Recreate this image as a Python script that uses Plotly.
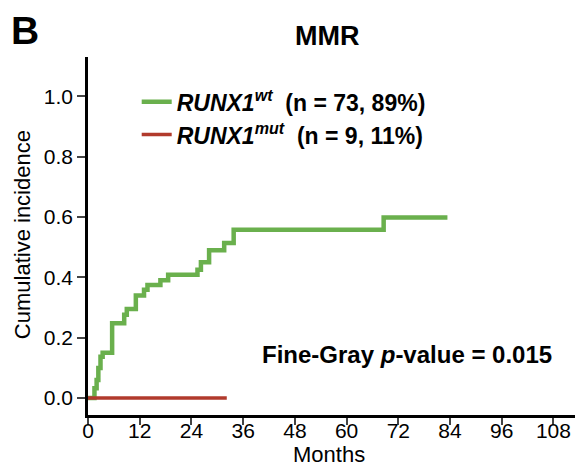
import plotly.graph_objects as go

# Data (months, cumulative incidence)
wt_months = [0, 1.5, 2.0, 2.4, 2.9, 3.4, 5.6, 8.4, 9.0, 11.1, 13.0, 13.8, 16.8, 18.6, 25.4, 26.2, 28.1, 31.6, 33.8, 68.6, 83.4]
wt_ci =     [0, 0.033, 0.06, 0.10, 0.137, 0.15, 0.248, 0.276, 0.295, 0.34, 0.359, 0.375, 0.39, 0.409, 0.425, 0.45, 0.49, 0.514, 0.558, 0.598, 0.598]
mut_months = [0, 32.2]
mut_ci = [0, 0]

x_ticks = [0, 12, 24, 36, 48, 60, 72, 84, 96, 108]
y_ticks = [0.0, 0.2, 0.4, 0.6, 0.8, 1.0]
y_tick_labels = ["0.0", "0.2", "0.4", "0.6", "0.8", "1.0"]

FONT = "Liberation Sans, Arial, sans-serif"

fig = go.Figure()
fig.add_trace(go.Scatter(
    x=wt_months, y=wt_ci, mode="lines", line=dict(color="#6AB04D", width=4.5, shape="hv"),
    name="<b><i>RUNX1</i><sup><i>wt</i></sup>  (n = 73, 89%)</b>"))
fig.add_trace(go.Scatter(
    x=mut_months, y=mut_ci, mode="lines", line=dict(color="#B13A2C", width=3.5, shape="hv"),
    name="<b><i>RUNX1</i><sup><i>mut</i></sup>  (n = 9, 11%)</b>"))

fig.update_layout(
    width=579, height=467,
    margin=dict(l=88, r=4, t=57, b=52),
    paper_bgcolor="white", plot_bgcolor="white",
    font=dict(family=FONT, color="black", size=21),
    showlegend=True,
    legend=dict(x=0.1, y=0.935, xanchor="left", yanchor="top",
                font=dict(size=23, family=FONT), bgcolor="rgba(0,0,0,0)",
                itemwidth=30, tracegroupgap=0, traceorder="normal"),
    xaxis=dict(range=[0, 113], tickvals=x_ticks, ticks="outside", ticklen=7, tickwidth=2,
               showline=True, linewidth=2.5, linecolor="black", showgrid=False, zeroline=False,
               tickfont=dict(size=21), ticklabelstandoff=-12),
    yaxis=dict(range=[-0.056, 1.13], tickvals=y_ticks, ticktext=y_tick_labels, ticks="outside",
               ticklen=8, tickwidth=2, showline=True, linewidth=2.5, linecolor="black",
               showgrid=False, zeroline=False, tickfont=dict(size=21)),
    annotations=[
        dict(text="<b>B</b>", x=-0.162, y=1.073, xref="paper", yref="paper", showarrow=False,
             font=dict(size=39, family=FONT), xanchor="left", yanchor="middle"),
        dict(text="<b>MMR</b>", x=0.49, y=1.059, xref="paper", yref="paper", showarrow=False,
             font=dict(size=27, family=FONT), xanchor="center", yanchor="middle"),
        dict(text="Months", x=0.495, y=-0.11, xref="paper", yref="paper", showarrow=False,
             font=dict(size=22, family=FONT), xanchor="center", yanchor="middle"),
        dict(text="Cumulative incidence", x=-0.133, y=0.503, xref="paper", yref="paper",
             showarrow=False, textangle=-90, font=dict(size=22, family=FONT),
             xanchor="center", yanchor="middle"),
        dict(text="<b>Fine-Gray <i>p</i>-value = 0.015</b>", x=0.957, y=0.170, xref="paper", yref="paper",
             showarrow=False, font=dict(size=24, family=FONT), xanchor="right", yanchor="middle"),
    ],
)

fig.write_html("out.html")
